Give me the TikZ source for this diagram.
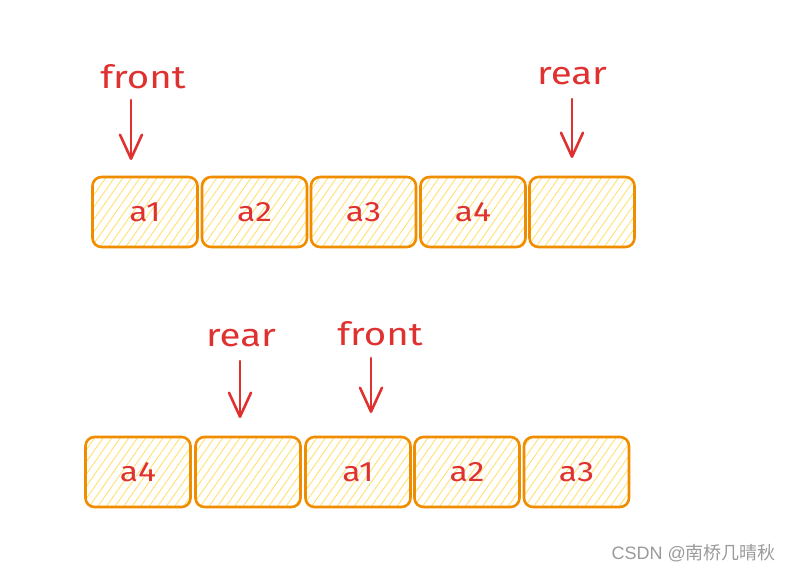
\documentclass[tikz,border=0pt]{standalone}
\usepackage{fontspec}
\setmainfont{Fira Sans}[FakeStretch=1.2]
\newfontfamily\cjk{Noto Sans CJK SC}
\newfontfamily\wmfont{Liberation Sans}
\usetikzlibrary{arrows.meta,patterns.meta}
\definecolor{boxline}{HTML}{F08C00}
\definecolor{hatch}{HTML}{FFE070}
\definecolor{txtred}{HTML}{E03131}
\definecolor{wm}{HTML}{9A9A9A}
\tikzset{
  cell/.style={draw=boxline, line width=2.6pt, rounded corners=9pt,
    pattern={Lines[angle=55,distance=7pt,line width=0.9pt]}, pattern color=hatch,
    minimum width=105pt, minimum height=70pt, inner sep=0pt,
    text=txtred, font=\fontsize{28}{28}\selectfont},
  lbl/.style={text=txtred, font=\fontsize{32}{32}\selectfont, inner sep=0pt},
  ptr/.style={draw=txtred, line width=2.6pt, line cap=round,
    -{Straight Barb[length=24pt,width=22pt,line width=2.6pt,round]}},
}
\begin{document}
\begin{tikzpicture}[x=1pt,y=-1pt]
\useasboundingbox (0,0) rectangle (787,573);
% top row
\node[cell] (t1) at (145,212) {a1};
\node[cell] (t2) at (254.5,212) {a2};
\node[cell] (t3) at (363.5,212) {a3};
\node[cell] (t4) at (473,212) {a4};
\node[cell] (t5) at (582,212) {};
\node[lbl] (tf) at (143,77) {front};
\node[lbl] (tr) at (572,76) {rear};
\coordinate (tfs) at (131,100);
\coordinate (tfe) at (131,160);
\coordinate (trs) at (572,99);
\coordinate (tre) at (572,158);
\draw[ptr] (tfs) -- (tfe);
\draw[ptr] (trs) -- (tre);
% bottom row
\node[cell] (b1) at (138,472) {a4};
\node[cell] (b2) at (248,472) {};
\node[cell] (b3) at (358,472) {a1};
\node[cell] (b4) at (467,472) {a2};
\node[cell] (b5) at (576.5,472) {a3};
\node[lbl] (br) at (241,338) {rear};
\node[lbl] (bf) at (380,334) {front};
\coordinate (brs) at (240,361);
\coordinate (bre) at (240,418);
\coordinate (bfs) at (371,358);
\coordinate (bfe) at (371,413);
\draw[ptr] (brs) -- (bre);
\draw[ptr] (bfs) -- (bfe);
% watermark
\node[text=wm, font=\wmfont\fontsize{18}{18}\selectfont, anchor=east, inner sep=0pt] (wmk) at (776,553) {CSDN @{\cjk 南桥几晴秋}};
\end{tikzpicture}
\end{document}
